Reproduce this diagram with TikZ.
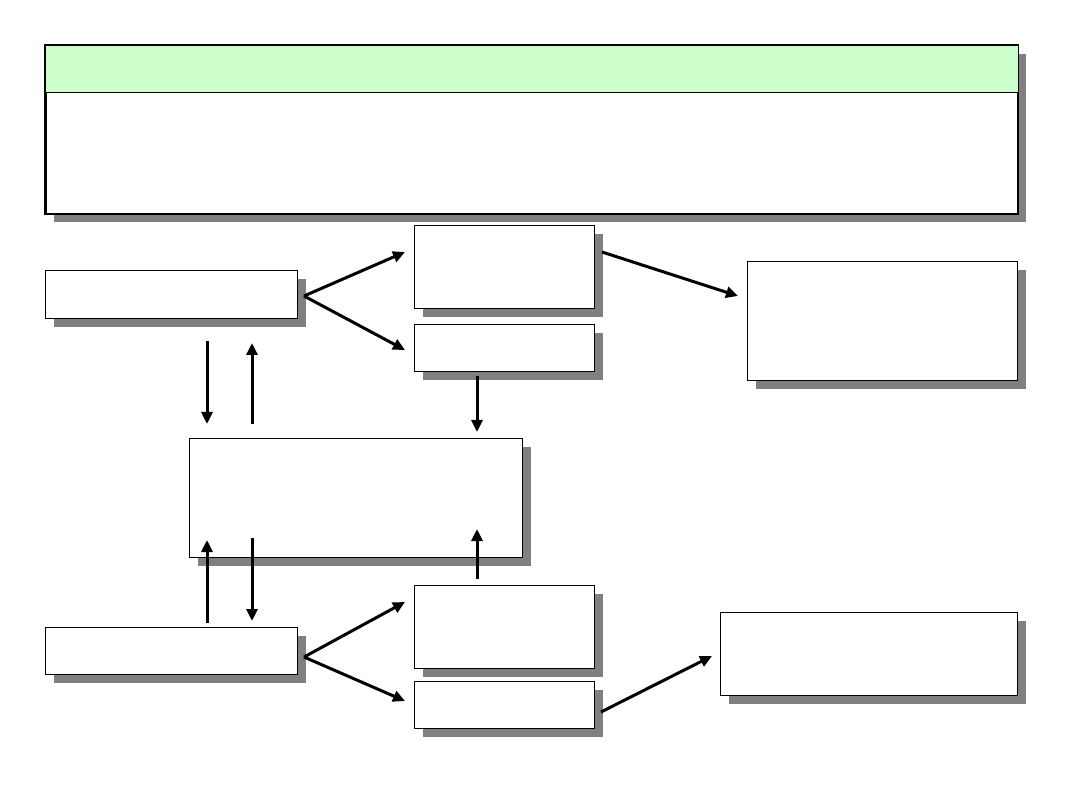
\documentclass[tikz,border=0pt]{standalone}
\usetikzlibrary{arrows.meta,shadows}
\definecolor{hdrgreen}{RGB}{204,255,204}
\definecolor{shadowgray}{RGB}{128,128,128}
\begin{document}
\begin{tikzpicture}[x=1pt,y=-1pt,
  box/.style={draw=black, line width=1.4pt, fill=white, inner sep=0pt, anchor=north west,
    drop shadow={shadow xshift=8.5pt, shadow yshift=-8.5pt, fill=shadowgray, opacity=1}},
  arr/.style={line width=3pt, -{Triangle[length=12pt,width=11pt]}, line cap=butt, line join=miter}]
\useasboundingbox (0,0) rectangle (1080,810);
% top panel
\node[box, line width=1.6pt, minimum width=972pt, minimum height=168pt] (top) at (45,45) {};
\fill[hdrgreen] (top.north west) rectangle (top.east |- 0,92.7);
\draw[line width=1.6pt] (top.west |- 0,92.7) coordinate (hl) -- (top.east |- 0,92.7) coordinate (hr);
\draw[line width=1.6pt] (top.north west) rectangle (top.south east);
% boxes
\node[box, minimum width=252pt, minimum height=48pt] (A) at (45,270) {};
\node[box, minimum width=180pt, minimum height=83pt] (B) at (414,225) {};
\node[box, minimum width=180pt, minimum height=47pt] (C) at (414,324) {};
\node[box, minimum width=270pt, minimum height=119pt] (D) at (747,261) {};
\node[box, minimum width=333pt, minimum height=119pt] (E) at (189,438) {};
\node[box, minimum width=252pt, minimum height=47pt] (F) at (45,627) {};
\node[box, minimum width=180pt, minimum height=83pt] (G) at (414,585) {};
\node[box, minimum width=180pt, minimum height=47pt] (H) at (414,681) {};
\node[box, minimum width=297pt, minimum height=83pt] (I) at (720,612) {};
% connector end points
\coordinate (a0) at (304,296);
\coordinate (b1) at (405,252);
\coordinate (c1) at (405,350);
\coordinate (b0) at (602,252);
\coordinate (d1) at (738,296);
\coordinate (ad0) at (207,341);
\coordinate (ad1) at (207,424);
\coordinate (ea0) at (252,424);
\coordinate (ea1) at (252,343);
\coordinate (c0) at (477,376);
\coordinate (e1) at (477,432);
\coordinate (fe0) at (207,623);
\coordinate (fe1) at (207,540);
\coordinate (ef0) at (252,538);
\coordinate (ef1) at (252,621);
\coordinate (g0) at (477,579);
\coordinate (e2) at (477,529);
\coordinate (f0) at (304,657);
\coordinate (g1) at (405,602);
\coordinate (h1) at (405,701);
\coordinate (h0) at (601,712);
\coordinate (i1) at (712,656);
% connectors
\draw[arr] (a0) -- (b1);
\draw[arr] (a0) -- (c1);
\draw[arr] (b0) -- (d1);
\draw[arr] (ad0) -- (ad1);
\draw[arr] (ea0) -- (ea1);
\draw[arr] (c0) -- (e1);
\draw[arr] (fe0) -- (fe1);
\draw[arr] (ef0) -- (ef1);
\draw[arr] (g0) -- (e2);
\draw[arr] (f0) -- (g1);
\draw[arr] (f0) -- (h1);
\draw[arr] (h0) -- (i1);
\end{tikzpicture}
\end{document}
